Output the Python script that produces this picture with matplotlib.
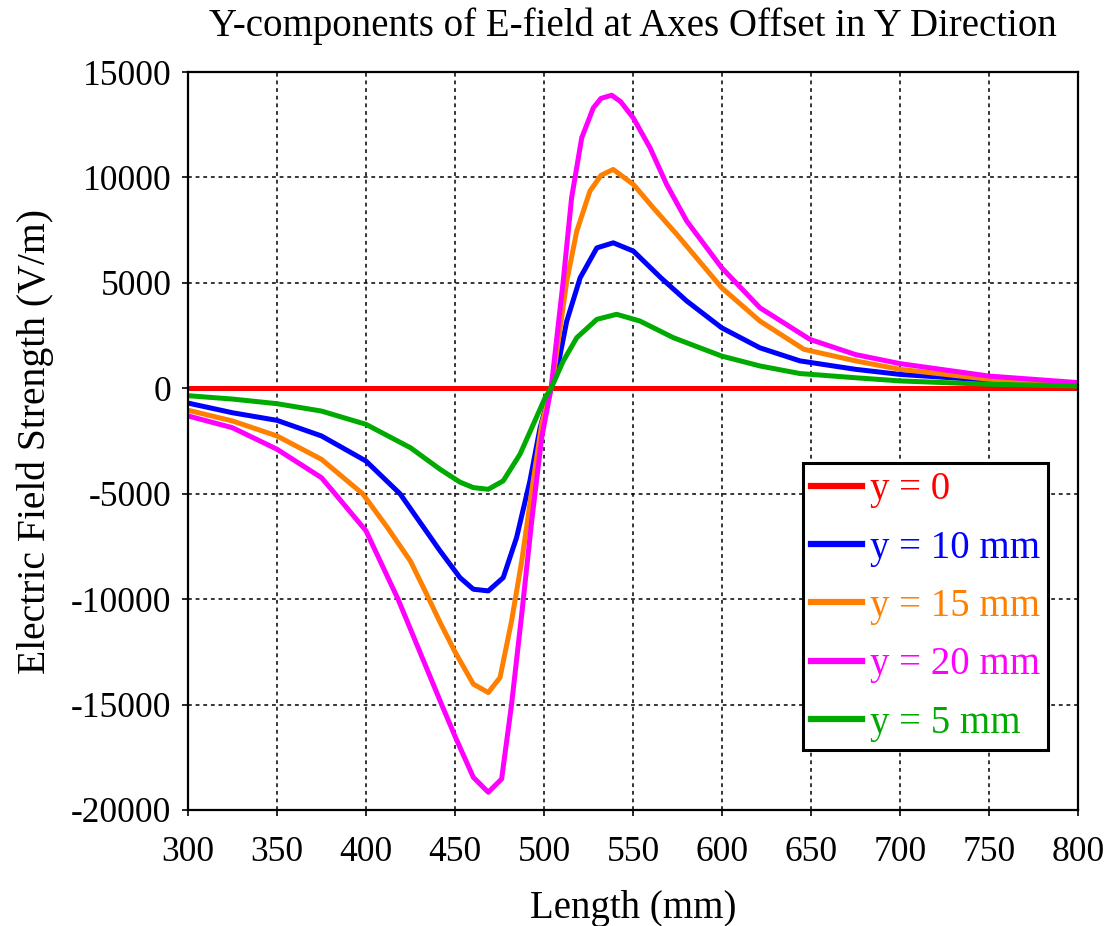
import matplotlib.pyplot as plt

# values (Length in mm, field in V/m)
x_y0 = [300, 800]
e_y0 = [0, 0]

x_y10 = [300, 325, 350, 375, 400, 419.1, 441.6, 452.8, 460.3, 468.7, 477.1, 484.6, 492.1, 497.8, 504,
         508, 512.8, 520.3, 529.7, 538.9, 550.2, 565.7, 580.2, 599.8, 621.3, 643.8, 675, 700, 750, 800]
e_y10 = [-700, -1160, -1520, -2260, -3450, -5000, -7710, -8980, -9530, -9610, -8980, -7080, -4390, -1870, 0,
         1140, 3190, 5240, 6660, 6900, 6510, 5240, 4140, 2870, 1920, 1300, 900, 660, 380, 190]

x_y15 = [300, 325, 350, 375, 398.1, 412, 425, 433.7, 441.6, 450, 460.3, 468.7, 475.3, 481.8, 487.5, 493.1, 498.7, 504,
         506.2, 512.8, 518.4, 525.8, 532, 538.9, 550.2, 561.4, 574.6, 599.8, 621.3, 646, 675, 700, 750, 800]
e_y15 = [-1040, -1550, -2260, -3370, -5000, -6600, -8200, -9700, -11100, -12500, -14030, -14430, -13720, -11030, -8190, -4870, -1710, 0,
         1140, 5090, 7450, 9350, 10100, 10380, 9670, 8560, 7300, 4770, 3190, 1850, 1300, 900, 430, 220]

x_y20 = [300, 325, 350, 375, 382.6, 400, 418, 442.5, 450, 460.3, 468.7, 476.2, 481.8, 487.5, 493.1, 498.7, 504,
         510.8, 515.5, 521.2, 527.7, 532, 538, 543, 550.2, 559.6, 568.9, 580.2, 599.8, 621.3, 649.4, 675, 700, 750, 800]
e_y20 = [-1310, -1870, -2890, -4240, -5000, -6760, -10000, -15000, -16500, -18450, -19160, -18530, -14980, -10710, -6290, -2340, 0,
         5090, 9030, 11880, 13300, 13750, 13900, 13600, 12820, 11400, 9670, 7930, 5720, 3820, 2320, 1600, 1170, 580, 270]

x_y5 = [300, 325, 350, 375, 400, 425, 441.6, 452.8, 460.3, 468.7, 477.1, 486.5, 494, 500.6, 504,
        510.8, 518.4, 529.7, 540.8, 553.9, 572.7, 599.8, 621.3, 643.8, 675, 700, 750, 800]
e_y5 = [-350, -510, -730, -1080, -1710, -2820, -3840, -4450, -4710, -4790, -4390, -3130, -1710, -450, 0,
        1290, 2400, 3270, 3510, 3190, 2400, 1530, 1060, 700, 500, 350, 190, 110]

plt.rcParams['font.family'] = ['Liberation Serif', 'DejaVu Serif']
plt.rcParams['axes.unicode_minus'] = False

fig = plt.figure(figsize=(11.11, 9.26), dpi=100)
ax = fig.add_axes([0.1692, 0.1253, 0.8011, 0.7969])

lw = 3.6
ax.plot(x_y0, e_y0, color="#ff0000", lw=lw, label="y = 0")
ax.plot(x_y10, e_y10, color="#0000ff", lw=lw, label="y = 10 mm")
ax.plot(x_y15, e_y15, color="#ff8000", lw=lw, label="y = 15 mm")
ax.plot(x_y20, e_y20, color="#ff00ff", lw=lw, label="y = 20 mm")
ax.plot(x_y5, e_y5, color="#00aa00", lw=lw, label="y = 5 mm")

ax.set_xlim(300, 800)
ax.set_ylim(-20000, 15000)
ax.set_xticks(range(300, 801, 50))
ax.set_yticks(range(-20000, 15001, 5000))
ax.grid(True, color="black", linestyle=(0, (2.5, 2.5)), linewidth=1.1)
ax.set_axisbelow(True)
for s in ax.spines.values():
    s.set_linewidth(1.6)
ax.tick_params(direction="out", length=4, width=1.2, labelsize=25.5)
ax.tick_params(axis="x", pad=15)
ax.tick_params(axis="y", pad=8)

ax.set_title("Y-components of E-field at Axes Offset in Y Direction", fontsize=28, pad=26)
ax.set_xlabel("Length (mm)", fontsize=28)
ax.set_ylabel("Electric Field Strength (V/m)", fontsize=28.5)
ax.xaxis.set_label_coords(0.5, -0.108)
ax.yaxis.set_label_coords(-0.151, 0.5)

leg = ax.legend(loc="upper left", bbox_to_anchor=(0.6907, 0.4706), fontsize=28,
                labelcolor="linecolor", fancybox=False, framealpha=1,
                edgecolor="black", borderpad=0.22, labelspacing=0.55,
                handlelength=1.3, handletextpad=0.2, borderaxespad=0)
leg.get_frame().set_linewidth(2.2)
for h in leg.get_lines():
    h.set_linewidth(4.5)

fig.savefig("out.png", dpi=100)
